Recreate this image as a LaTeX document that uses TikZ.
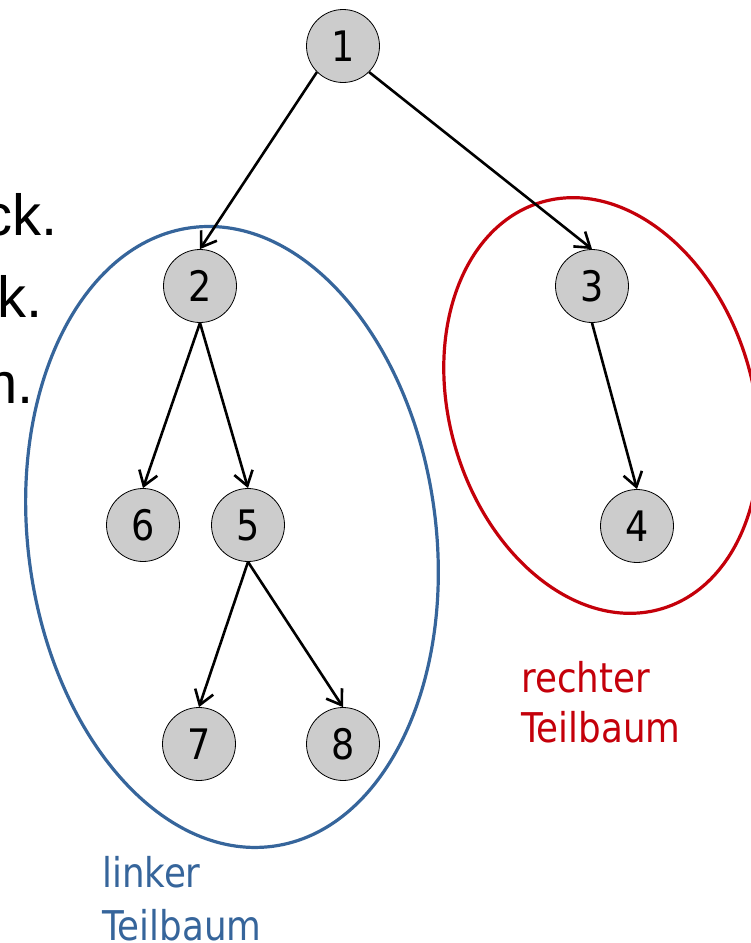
\documentclass[tikz,border=0pt]{standalone}
\usepackage{fontspec}
\setmainfont{Liberation Sans}
\newfontfamily\tahomalike[FakeStretch=0.87]{DejaVu Sans}
\usetikzlibrary{arrows.meta}
\definecolor{treeblue}{RGB}{54,101,155}
\definecolor{treered}{RGB}{196,0,10}
\definecolor{nodegray}{RGB}{204,204,204}
\tikzset{
  treenode/.style={circle, draw=black, line width=0.8pt, fill=nodegray,
    minimum size=73pt, inner sep=0pt, font=\tahomalike\fontsize{42}{42}\selectfont},
  edge/.style={line width=2.6pt, -{Straight Barb[length=14pt,width=19pt]}},
  subtree/.style={line width=3.2pt},
  cuttext/.style={anchor=base east, inner sep=0pt, font=\fontsize{58}{58}\selectfont},
  lbl/.style={anchor=base west, inner sep=0pt, font=\tahomalike\fontsize{41}{41}\selectfont}
}
\begin{document}
\begin{tikzpicture}[x=1pt,y=-1pt]
\useasboundingbox (0,0) rectangle (751,943);
\clip (0,0) rectangle (751,943);
% cut-off text on the left
\node[cuttext] (t1) at (58,235) {ck.};
\node[cuttext] (t2) at (43,317) {ck.};
\node[cuttext] (t3) at (34,403) {m.};
% subtree ellipses
\coordinate (cl) at (232,537);
\coordinate (cr) at (601.5,405.5);
\draw[subtree, treeblue, rotate around={7.5:(cl)}] (cl) ellipse [x radius=204pt, y radius=312pt];
\draw[subtree, treered, rotate around={16.5:(cr)}] (cr) ellipse [x radius=152pt, y radius=212pt];
% nodes
\node[treenode] (n1) at (343,46) {1};
\node[treenode] (n2) at (200,286) {2};
\node[treenode] (n3) at (592,286) {3};
\node[treenode] (n6) at (143,525) {6};
\node[treenode] (n5) at (248,525) {5};
\node[treenode] (n4) at (637,526) {4};
\node[treenode] (n7) at (199,744) {7};
\node[treenode] (n8) at (343,744) {8};
% edges
\draw[edge] (n1.south west) -- (n2.north);
\draw[edge] (n1.south east) -- (n3.north);
\draw[edge] (n2.south) -- (n6.north);
\draw[edge] (n2.south) -- (n5.north);
\draw[edge] (n3.south) -- (n4.north);
\draw[edge] (n5.south) -- (n7.north);
\draw[edge] (n5.south) -- (n8.north);
% labels
\node[lbl, text=treeblue] (ll1) at (102,887) {linker};
\node[lbl, text=treeblue] (ll2) at (102,940) {Teilbaum};
\node[lbl, text=treered] (lr1) at (521,692) {rechter};
\node[lbl, text=treered] (lr2) at (521,742) {Teilbaum};
\end{tikzpicture}
\end{document}
